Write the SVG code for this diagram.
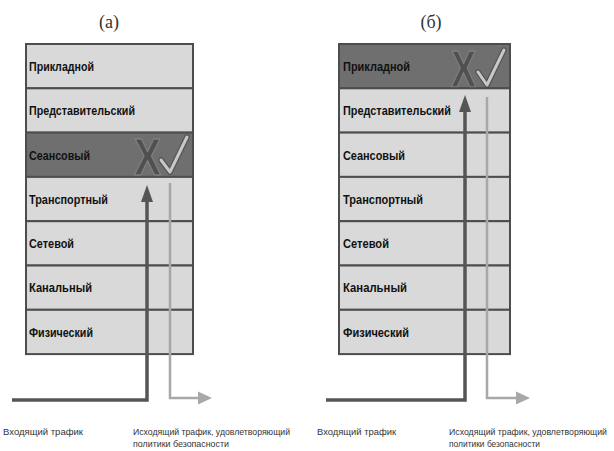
<svg xmlns="http://www.w3.org/2000/svg" width="614" height="451" viewBox="0 0 614 451">
<style>
.row{fill:#d9d9d9;stroke:#4d4d4d;stroke-width:2}
.hi{fill:#6f6f6f;stroke:#4d4d4d;stroke-width:2}
.lt{font-family:"Liberation Sans",Arial,sans-serif;font-weight:bold;font-size:12.5px;fill:#111}
.cap{font-family:"Liberation Serif","Times New Roman",serif;font-size:18px;fill:#333}
.note{font-family:"Liberation Sans",Arial,sans-serif;font-size:9.5px;fill:#333}
.dark{fill:none;stroke:#555;stroke-width:3.5}
.light{fill:none;stroke:#a8a8a8;stroke-width:2.5}
.xm{font-family:"Liberation Sans",Arial,sans-serif;font-weight:bold;font-size:52px;fill:#505050;stroke:#8a8a8a;stroke-width:1}
.ck{fill:none;stroke:#c8c8c8;stroke-width:3;stroke-linecap:round;stroke-linejoin:round}
.cko{fill:none;stroke:#555;stroke-width:5.5;stroke-linecap:round;stroke-linejoin:round}
</style>
<rect width="614" height="451" fill="#fff"/>
<text class="cap" x="109" y="28" text-anchor="middle">(а)</text>
<text class="cap" x="431" y="28" text-anchor="middle">(б)</text>

<g id="stack-a">
<g id="a-app"><rect class="row" x="26" y="44" width="167" height="44.3"/><text class="lt" x="29" y="71" textLength="65" lengthAdjust="spacingAndGlyphs">Прикладной</text></g>
<g id="a-pres"><rect class="row" x="26" y="88.3" width="167" height="44.3"/><text class="lt" x="29" y="115" textLength="106" lengthAdjust="spacingAndGlyphs">Представительский</text></g>
<g id="a-sess"><rect class="hi" x="26" y="132.6" width="167" height="44.3"/><text class="lt" x="29" y="160" textLength="61" lengthAdjust="spacingAndGlyphs">Сеансовый</text>
<text class="xm" x="134" y="175" textLength="27" lengthAdjust="spacingAndGlyphs">X</text>
<path class="cko" d="M161,160 L170,172 L187,137"/><path class="ck" d="M161,160 L170,172 L187,137"/></g>
<g id="a-trans"><rect class="row" x="26" y="176.9" width="167" height="44.3"/><text class="lt" x="29" y="204" textLength="79" lengthAdjust="spacingAndGlyphs">Транспортный</text></g>
<g id="a-net"><rect class="row" x="26" y="221.2" width="167" height="44.3"/><text class="lt" x="29" y="248" textLength="45" lengthAdjust="spacingAndGlyphs">Сетевой</text></g>
<g id="a-link"><rect class="row" x="26" y="265.5" width="167" height="44.3"/><text class="lt" x="29" y="292" textLength="63" lengthAdjust="spacingAndGlyphs">Канальный</text></g>
<g id="a-phys"><rect class="row" x="26" y="309.8" width="167" height="44.3"/><text class="lt" x="29" y="337" textLength="64" lengthAdjust="spacingAndGlyphs">Физический</text></g>
</g>

<g id="stack-b">
<g id="b-app"><rect class="hi" x="339" y="44" width="171" height="44.3"/><text class="lt" x="343" y="71" textLength="67" lengthAdjust="spacingAndGlyphs">Прикладной</text>
<text class="xm" x="451" y="87" textLength="25" lengthAdjust="spacingAndGlyphs">X</text>
<path class="cko" d="M478,72 L487,85 L504,50"/><path class="ck" d="M478,72 L487,85 L504,50"/></g>
<g id="b-pres"><rect class="row" x="339" y="88.3" width="171" height="44.3"/><text class="lt" x="343" y="115" textLength="108" lengthAdjust="spacingAndGlyphs">Представительский</text></g>
<g id="b-sess"><rect class="row" x="339" y="132.6" width="171" height="44.3"/><text class="lt" x="343" y="160" textLength="62" lengthAdjust="spacingAndGlyphs">Сеансовый</text></g>
<g id="b-trans"><rect class="row" x="339" y="176.9" width="171" height="44.3"/><text class="lt" x="343" y="204" textLength="80" lengthAdjust="spacingAndGlyphs">Транспортный</text></g>
<g id="b-net"><rect class="row" x="339" y="221.2" width="171" height="44.3"/><text class="lt" x="343" y="248" textLength="46" lengthAdjust="spacingAndGlyphs">Сетевой</text></g>
<g id="b-link"><rect class="row" x="339" y="265.5" width="171" height="44.3"/><text class="lt" x="343" y="292" textLength="64" lengthAdjust="spacingAndGlyphs">Канальный</text></g>
<g id="b-phys"><rect class="row" x="339" y="309.8" width="171" height="44.3"/><text class="lt" x="343" y="337" textLength="66" lengthAdjust="spacingAndGlyphs">Физический</text></g>
</g>

<g id="connectors">
<path class="dark" d="M12,400 H147 V200"/>
<polygon points="147,185 141,202 153,202" fill="#555"/>
<path class="light" d="M170,183 V398 H199"/>
<polygon points="198,391.5 212,398 198,404.5" fill="#a8a8a8"/>
<path class="dark" d="M326,400 H465 V110"/>
<polygon points="465,95 459,112 471,112" fill="#555"/>
<path class="light" d="M487,97 V398 H517"/>
<polygon points="516,391.5 530,398 516,404.5" fill="#a8a8a8"/>
</g>

<g id="labels">
<text class="note" x="3" y="435" textLength="80" lengthAdjust="spacingAndGlyphs">Входящий трафик</text>
<text class="note" x="133" y="435" textLength="157" lengthAdjust="spacingAndGlyphs">Исходящий трафик, удовлетворяющий</text>
<text class="note" x="133" y="447" textLength="96" lengthAdjust="spacingAndGlyphs">политики безопасности</text>
<text class="note" x="317" y="435" textLength="79" lengthAdjust="spacingAndGlyphs">Входящий трафик</text>
<text class="note" x="449" y="435" style="font-size:8.8px" textLength="158" lengthAdjust="spacingAndGlyphs">Исходящий трафик, удовлетворяющий</text>
<text class="note" x="449" y="447" textLength="91" lengthAdjust="spacingAndGlyphs">политики безопасности</text>
</g>
</svg>
